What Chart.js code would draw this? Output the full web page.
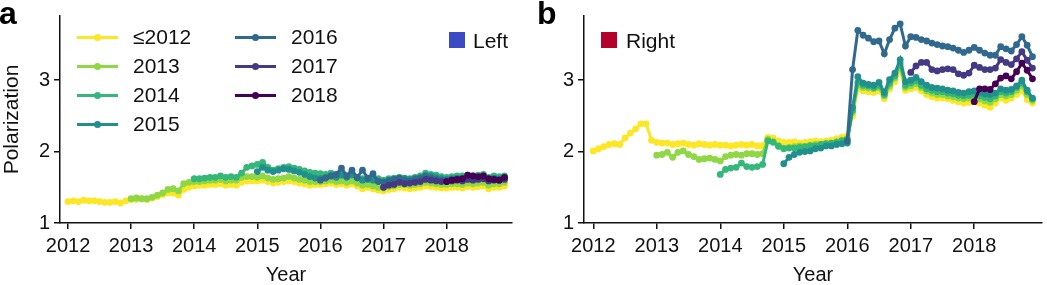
<!DOCTYPE html>
<html>
<head>
<meta charset="utf-8">
<script src="https://cdn.jsdelivr.net/npm/chart.js@4.4.1/dist/chart.umd.min.js"></script>
<style>
  body { margin: 0; background: #fff; font-family: "Liberation Sans", Arial, sans-serif; }
  #wrap { position: relative; width: 1047px; height: 285px; overflow: hidden; }
  canvas { position: absolute; top: 0; }
  .tag { position: absolute; font-weight: bold; font-size: 32px; line-height: 1; color: #000; }
  .leg { position: absolute; font-size: 21px; line-height: 1; color: #111; white-space: nowrap; }
  .legline { position: absolute; height: 3px; }
  .legdot { position: absolute; width: 7px; height: 7px; border-radius: 50%; }
  .box { position: absolute; width: 16px; height: 16px; }
</style>
</head>
<body>
<div id="wrap">
  <canvas id="left" width="524" height="285" style="left:0"></canvas>
  <canvas id="right" width="523" height="285" style="left:524px"></canvas>
  <div class="tag" style="left:-1px;top:-3px">a</div>
  <div class="tag" style="left:537px;top:-3px">b</div>
  <div id="legend"></div>
  <div class="box" style="left:449px;top:32px;background:#3a4bc4"></div>
  <div class="leg" style="left:473px;top:30px">Left</div>
  <div class="box" style="left:601px;top:32px;background:#b5002b"></div>
  <div class="leg" style="left:626px;top:30px">Right</div>
</div>
<script>
// cohorts (by year of first activity)
const cohorts = ["≤2012", "2013", "2014", "2015", "2016", "2017", "2018"]
const cohortStart = [2012, 2013, 2014, 2015, 2016, 2017, 2018]
const cohortColors = ["#fde725", "#8fd744", "#35b779", "#21908d", "#31688e", "#443a83", "#440154"]
const yearTicks = [2012, 2013, 2014, 2015, 2016, 2017, 2018]
const polTicks = [1, 2, 3]

// monthly values, left-leaning users
const left2012 = [
  1.30, 1.31, 1.30, 1.32, 1.31, 1.31, 1.30, 1.29, 1.29, 1.30, 1.28, 1.31,
  1.33, 1.33, 1.34, 1.33, 1.35, 1.37, 1.40, 1.42, 1.42, 1.39, 1.47, 1.50,
  1.52, 1.53, 1.53, 1.54, 1.54, 1.55, 1.53, 1.54, 1.53, 1.57, 1.59, 1.59,
  1.59, 1.60, 1.58, 1.56, 1.57, 1.58, 1.59, 1.58, 1.56, 1.55, 1.53, 1.54,
  1.54, 1.55, 1.56, 1.54, 1.55, 1.53, 1.55, 1.52, 1.48, 1.50, 1.48, 1.46,
  1.45, 1.47, 1.48, 1.50, 1.49, 1.48, 1.49, 1.50, 1.52, 1.51, 1.50, 1.49,
  1.49, 1.50, 1.50, 1.49, 1.51, 1.50, 1.51, 1.52, 1.48, 1.50, 1.50, 1.52
]
const left2013 = [
  1.34, 1.35, 1.34, 1.34, 1.36, 1.39, 1.42, 1.47, 1.48, 1.45, 1.55, 1.57,
  1.58, 1.58, 1.59, 1.60, 1.60, 1.61, 1.59, 1.60, 1.60, 1.64, 1.65, 1.65,
  1.64, 1.66, 1.63, 1.61, 1.62, 1.63, 1.65, 1.63, 1.61, 1.60, 1.58, 1.58,
  1.58, 1.59, 1.60, 1.58, 1.59, 1.57, 1.59, 1.56, 1.53, 1.54, 1.52, 1.50,
  1.49, 1.51, 1.52, 1.54, 1.54, 1.53, 1.54, 1.55, 1.57, 1.56, 1.55, 1.54,
  1.54, 1.55, 1.55, 1.54, 1.56, 1.55, 1.56, 1.57, 1.53, 1.55, 1.55, 1.57
]
const left2014 = [
  1.62, 1.62, 1.63, 1.64, 1.64, 1.66, 1.64, 1.65, 1.64, 1.70, 1.78, 1.80,
  1.82, 1.85, 1.78, 1.74, 1.76, 1.78, 1.79, 1.77, 1.75, 1.73, 1.71, 1.70,
  1.69, 1.68, 1.70, 1.67, 1.68, 1.66, 1.67, 1.64, 1.62, 1.63, 1.62, 1.62,
  1.60, 1.62, 1.63, 1.64, 1.63, 1.62, 1.64, 1.66, 1.70, 1.68, 1.67, 1.65,
  1.64, 1.65, 1.66, 1.66, 1.67, 1.66, 1.67, 1.68, 1.64, 1.66, 1.65, 1.66
]
const left2015 = [
  1.72, 1.78, 1.74, 1.72, 1.74, 1.76, 1.75, 1.73, 1.71, 1.68, 1.65, 1.63,
  1.62, 1.64, 1.66, 1.64, 1.67, 1.64, 1.68, 1.63, 1.60, 1.61, 1.60, 1.59,
  1.58, 1.60, 1.61, 1.63, 1.62, 1.61, 1.63, 1.64, 1.67, 1.66, 1.64, 1.62,
  1.61, 1.62, 1.63, 1.62, 1.64, 1.63, 1.64, 1.65, 1.61, 1.63, 1.62, 1.63
]
const left2016 = [
  1.60, 1.63, 1.66, 1.68, 1.77, 1.66, 1.74, 1.64, 1.74, 1.63, 1.69, 1.58,
  1.57, 1.59, 1.61, 1.63, 1.60, 1.59, 1.61, 1.62, 1.65, 1.63, 1.61, 1.60,
  1.60, 1.61, 1.62, 1.61, 1.63, 1.62, 1.63, 1.64, 1.60, 1.62, 1.61, 1.63
]
const left2017 = [
  1.50, 1.53, 1.54, 1.57, 1.55, 1.56, 1.57, 1.58, 1.61, 1.60, 1.59, 1.58,
  1.58, 1.59, 1.60, 1.59, 1.61, 1.60, 1.61, 1.62, 1.59, 1.60, 1.60, 1.61
]
const left2018 = [1.58, 1.60, 1.61, 1.62, 1.67, 1.66, 1.65, 1.66, 1.62, 1.61, 1.60, 1.64]

// monthly values, right-leaning users
const right2012 = [
  2.01, 2.04, 2.07, 2.10, 2.11, 2.10, 2.19, 2.26, 2.32, 2.39, 2.39, 2.16,
  2.13, 2.12, 2.12, 2.10, 2.11, 2.12, 2.10, 2.09, 2.11, 2.10, 2.09, 2.10,
  2.09, 2.09, 2.08, 2.09, 2.10, 2.09, 2.10, 2.08, 2.08, 2.20, 2.19, 2.15,
  2.13, 2.13, 2.14, 2.12, 2.13, 2.14, 2.15, 2.14, 2.15, 2.16, 2.18, 2.20,
  2.22, 2.50, 2.88, 2.85, 2.84, 2.83, 2.85, 2.74, 2.88, 2.98, 3.14, 2.86,
  2.88, 2.90, 2.85, 2.80, 2.77, 2.75, 2.75, 2.74, 2.72, 2.70, 2.68, 2.69,
  2.70, 2.68, 2.65, 2.62, 2.68, 2.75, 2.72, 2.75, 2.80, 2.85, 2.73, 2.68
]
const right2013 = [
  1.95, 1.96, 1.99, 1.92, 1.99, 2.01, 1.96, 1.93, 1.89, 1.90, 1.91, 1.89,
  1.87, 1.93, 1.95, 1.96, 1.95, 1.97, 1.97, 1.96, 1.97, 2.17, 2.14, 2.07,
  2.05, 2.06, 2.07, 2.08, 2.07, 2.09, 2.10, 2.10, 2.11, 2.12, 2.14, 2.16,
  2.18, 2.55, 2.93, 2.90, 2.89, 2.88, 2.90, 2.78, 2.92, 3.03, 3.20, 2.90,
  2.92, 2.95, 2.90, 2.85, 2.82, 2.80, 2.80, 2.78, 2.77, 2.75, 2.74, 2.75,
  2.76, 2.74, 2.71, 2.69, 2.74, 2.80, 2.78, 2.80, 2.86, 2.92, 2.80, 2.72
]
const right2014 = [
  1.68, 1.75, 1.77, 1.78, 1.84, 1.79, 1.78, 1.79, 1.82, 2.15, 2.13, 2.08,
  2.04, 2.05, 2.05, 2.06, 2.07, 2.08, 2.08, 2.10, 2.11, 2.12, 2.13, 2.15,
  2.17, 2.58, 2.97, 2.93, 2.92, 2.90, 2.93, 2.80, 2.96, 3.06, 3.24, 2.93,
  2.96, 2.99, 2.93, 2.88, 2.86, 2.84, 2.84, 2.82, 2.81, 2.79, 2.78, 2.79,
  2.80, 2.78, 2.76, 2.74, 2.78, 2.84, 2.82, 2.84, 2.90, 2.96, 2.84, 2.74
]
const right2015 = [
  1.83, 1.92, 1.96, 1.99, 2.00, 2.01, 2.04, 2.05, 2.08, 2.08, 2.10, 2.11,
  2.12, 2.62, 3.05, 2.96, 2.94, 2.93, 2.97, 2.83, 3.01, 3.10, 3.29, 2.98,
  3.00, 3.04, 2.98, 2.93, 2.90, 2.89, 2.88, 2.86, 2.85, 2.83, 2.82, 2.84,
  2.85, 2.83, 2.81, 2.80, 2.82, 2.88, 2.86, 2.87, 2.92, 3.00, 2.86, 2.75
]
const right2016 = [
  2.15, 3.15, 3.70, 3.63, 3.59, 3.54, 3.55, 3.37, 3.57, 3.73, 3.79, 3.48,
  3.61, 3.60, 3.57, 3.55, 3.52, 3.50, 3.48, 3.47, 3.45, 3.42, 3.39, 3.42,
  3.46, 3.42, 3.38, 3.35, 3.35, 3.47, 3.44, 3.41, 3.50, 3.61, 3.49, 3.33
]
const right2017 = [
  3.11, 3.20, 3.25, 3.25, 3.15, 3.13, 3.15, 3.16, 3.15, 3.09, 3.07, 3.10,
  3.21, 3.18, 3.15, 3.15, 3.17, 3.29, 3.25, 3.22, 3.30, 3.40, 3.28, 3.17
]
const right2018 = [2.70, 2.88, 2.88, 2.87, 2.95, 3.03, 3.06, 3.02, 3.12, 3.24, 3.14, 3.02]

const leftSeries = [left2012, left2013, left2014, left2015, left2016, left2017, left2018]
const rightSeries = [right2012, right2013, right2014, right2015, right2016, right2017, right2018]

const FONT = "'Liberation Sans', Arial, sans-serif"

function buildDatasets(series) {
  return series.map((values, idx) => ({
    label: cohorts[idx],
    data: values.map((v, i) => ({ x: cohortStart[idx] + i / 12, y: v })),
    borderColor: cohortColors[idx],
    backgroundColor: cohortColors[idx],
    pointBackgroundColor: cohortColors[idx],
    pointBorderWidth: 0,
    pointRadius: 3.4,
    borderWidth: 3,
    tension: 0,
    order: series.length - idx
  }))
}

function makeChart(id, series, xMin, xMax, yTitle, rightPad) {
  return new Chart(document.getElementById(id), {
    type: "line",
    data: { datasets: buildDatasets(series) },
    options: {
      responsive: false,
      animation: false,
      layout: { padding: { top: 12, right: rightPad, left: 0, bottom: 0 } },
      plugins: { legend: { display: false }, tooltip: { enabled: false } },
      scales: {
        x: {
          type: "linear",
          min: xMin,
          max: xMax,
          afterBuildTicks: (scale) => { scale.ticks = yearTicks.map(v => ({ value: v })) },
          afterFit: (scale) => { scale.height = 62 },
          border: { display: true, color: "#111", width: 1.5 },
          grid: { drawOnChartArea: false, drawTicks: true, tickLength: 6, color: "#111", lineWidth: 1.5 },
          ticks: {
            color: "#111", padding: 5, maxRotation: 0, autoSkip: false,
            font: { family: FONT, size: 20 },
            callback: (v) => String(v)
          },
          title: {
            display: true, text: "Year", color: "#111",
            font: { family: FONT, size: 20 }, padding: { top: 0, bottom: -2 }
          }
        },
        y: {
          min: 1,
          max: 3.9,
          afterBuildTicks: (scale) => { scale.ticks = polTicks.map(v => ({ value: v })) },
          afterFit: (scale) => { scale.width = 60 },
          border: { display: true, color: "#111", width: 1.5 },
          grid: { drawOnChartArea: false, drawTicks: true, tickLength: 6, color: "#111", lineWidth: 1.5 },
          ticks: {
            color: "#111", padding: 4,
            font: { family: FONT, size: 20 },
            callback: (v) => String(v)
          },
          title: {
            display: yTitle !== "", text: yTitle, color: "#111",
            font: { family: FONT, size: 21 }, padding: { top: 0, bottom: 0 }
          }
        }
      }
    }
  })
}

makeChart("left", leftSeries, 2011.873, 2019.036, "Polarization", 12)
makeChart("right", rightSeries, 2011.854, 2019.067, "", 5)

// legend, two columns
const legend = document.getElementById("legend")
cohorts.forEach((name, idx) => {
  const col = idx < 4 ? 0 : 1
  const row = idx < 4 ? idx : idx - 4
  const lx = col === 0 ? 77 : 235
  const cy = 37 + row * 29
  legend.insertAdjacentHTML("beforeend",
    `<div class="legline" style="left:${lx}px;top:${cy - 1.5}px;width:41px;background:${cohortColors[idx]}"></div>` +
    `<div class="legdot" style="left:${lx + 17}px;top:${cy - 3.5}px;background:${cohortColors[idx]}"></div>` +
    `<div class="leg" style="left:${lx + 56}px;top:${cy - 11}px">${name}</div>`)
})
</script>
</body>
</html>
